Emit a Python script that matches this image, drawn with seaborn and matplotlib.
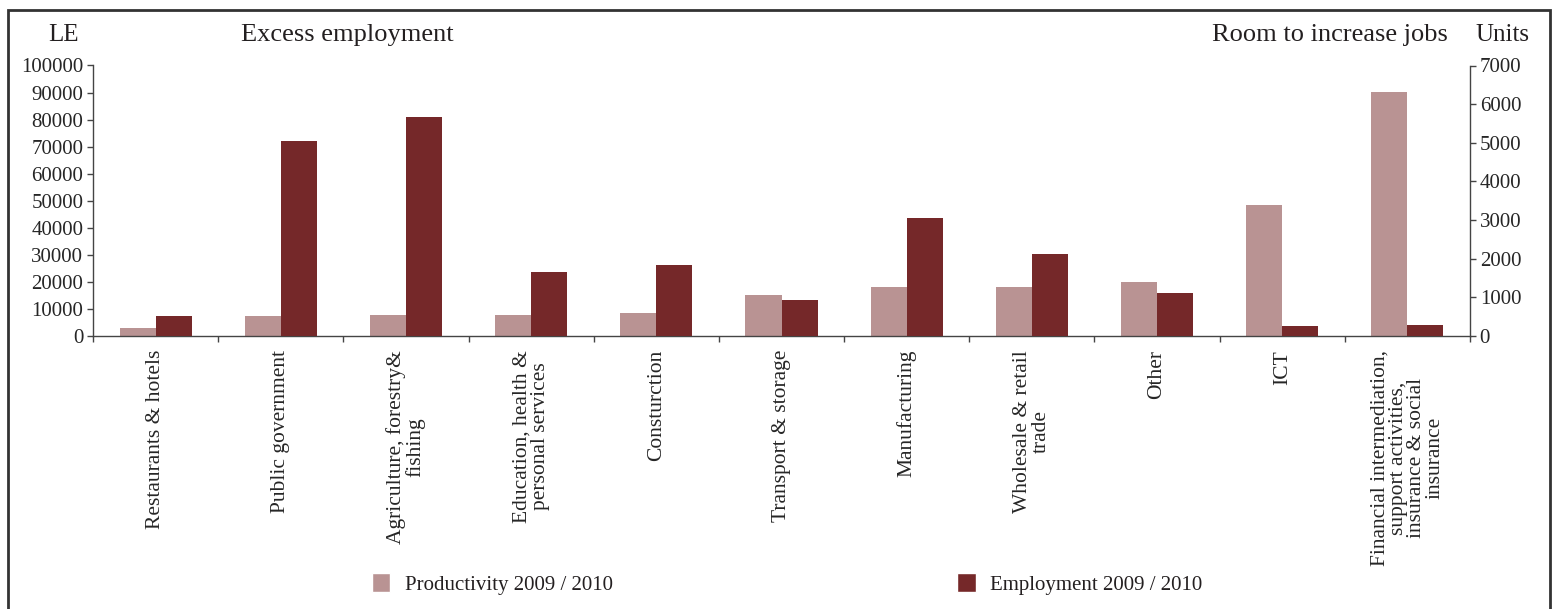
import numpy as np
import pandas as pd
import matplotlib.pyplot as plt
import seaborn as sns
from matplotlib.patches import Patch, Rectangle

# Data
sectors = ['Restaurants & hotels', 'Public government', 'Agriculture, forestry&\nfishing',
           'Education, health &\npersonal services', 'Consturction', 'Transport & storage',
           'Manufacturing', 'Wholesale & retail\ntrade', 'Other', 'ICT',
           'Financial intermediation,\nsupport activities,\ninsurance & social\ninsurance']
productivity = [2800, 7300, 7700, 7700, 8400, 15000, 18000, 18000, 19900, 48300, 90100]
employment = [510, 5040, 5660, 1650, 1830, 925, 3050, 2115, 1105, 250, 280]

prod_name = 'Productivity 2009 / 2010'
emp_name = 'Employment 2009 / 2010'
prod_color = '#b99393'
emp_color = '#752829'

df_prod = pd.DataFrame({'sector': sectors, 'value': productivity, 'series': prod_name})
df_emp = pd.DataFrame({'sector': sectors, 'value': employment, 'series': emp_name})
order = [prod_name, emp_name]
pal = {prod_name: prod_color, emp_name: emp_color}

sns.set_theme(style='white')
plt.rcParams['font.family'] = ['Liberation Serif', 'DejaVu Serif']
plt.rcParams['text.color'] = '#231f20'

fig = plt.figure(figsize=(15.58, 6.09), dpi=100)
ax = fig.add_axes([93 / 1558, 1 - 336 / 609, (1470 - 93) / 1558, (336 - 65.5) / 609])
ax2 = ax.twinx()

# productivity on the LE axis, employment on the Units axis, dodged side by side
sns.barplot(data=df_prod, x='sector', y='value', hue='series', hue_order=order, dodge=True,
            palette=pal, width=0.576, ax=ax, legend=False, saturation=1, linewidth=0)
sns.barplot(data=df_emp, x='sector', y='value', hue='series', hue_order=order, dodge=True,
            palette=pal, width=0.576, ax=ax2, legend=False, saturation=1, linewidth=0)

ax.set_ylim(0, 100000)
ax2.set_ylim(0, 7000)
ax.set_xlim(-0.5, len(sectors) - 0.5)
ax.set_yticks(np.arange(0, 100001, 10000))
ax2.set_yticks(np.arange(0, 7001, 1000))
ax.set_xlabel('')
ax.set_ylabel('')
ax2.set_ylabel('')

for a in (ax, ax2):
    for s in a.spines.values():
        s.set_color('#444444')
        s.set_linewidth(1.0)
    a.spines['top'].set_visible(False)
ax.spines['right'].set_visible(False)
ax2.spines['left'].set_visible(False)
ax2.spines['bottom'].set_visible(False)

ax.tick_params(axis='y', direction='out', length=4, width=1, color='#444444',
               labelsize=15, pad=3, left=True)
ax2.tick_params(axis='y', direction='out', length=4, width=1, color='#444444',
                labelsize=15, pad=3, right=True)

# category ticks at the boundaries, labels at the centres
ax.set_xticks(np.arange(-0.5, len(sectors), 1), minor=True)
ax.tick_params(axis='x', which='minor', direction='out', length=4, width=1, color='#444444', bottom=True)
ax.tick_params(axis='x', which='major', length=0, pad=10, labelsize=15.5)
ax.set_xticks(range(len(sectors)))
ax.set_xticklabels(sectors, rotation=90, va='top', ha='center', linespacing=0.95)
for lab in ax.get_xticklabels():
    lab.set_multialignment('center')

fig.text(63 / 1558, 1 - 35 / 609, 'LE', fontsize=18, ha='center', va='center')
fig.text(241 / 1558, 1 - 35 / 609, 'Excess employment', fontsize=19, ha='left', va='center')
fig.text(1448 / 1558, 1 - 35 / 609, 'Room to increase jobs', fontsize=19, ha='right', va='center')
fig.text(1502 / 1558, 1 - 35 / 609, 'Units', fontsize=18, ha='center', va='center')

handles = [Patch(facecolor=prod_color, label=prod_name), Patch(facecolor=emp_color, label=emp_name)]
fig.legend(handles=handles, loc='center', bbox_to_anchor=(787 / 1558, 1 - 584 / 609), ncol=2,
           frameon=False, fontsize=15, handlelength=0.9, handleheight=1.0, handletextpad=0.7,
           columnspacing=16.5)

# frame around the whole figure
fig.patches.append(Rectangle((8 / 1558, -0.05), (1550 - 8) / 1558, 1.05 - 10 / 609,
                             transform=fig.transFigure, fill=False, edgecolor='#333333',
                             linewidth=2, clip_on=False))

fig.savefig('out.png', dpi=100)
